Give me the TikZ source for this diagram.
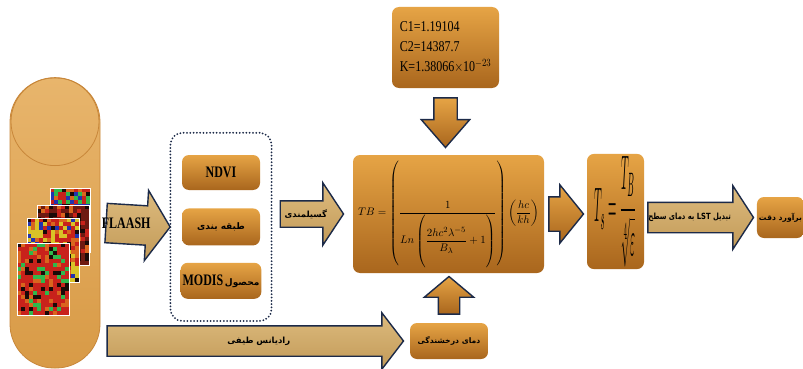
\documentclass[tikz,border=0pt]{standalone}
\usepackage{fontspec}
\usepackage{amsmath}
\usepackage{graphicx}
\setmainfont{Liberation Serif}
\newfontfamily\fa[Script=Arabic]{DejaVu Sans}
\TeXXeTstate=1
\usetikzlibrary{calc,positioning,fit,shapes.arrows}

\definecolor{boxtop}{HTML}{E6A445}
\definecolor{boxmid}{HTML}{D88C2C}
\definecolor{boxbot}{HTML}{A9661D}
\definecolor{navy}{HTML}{1C2A48}
\definecolor{creamtop}{HTML}{DDBB7E}
\definecolor{creammid}{HTML}{F6E8C4}
\definecolor{creambot}{HTML}{C29A58}
\definecolor{cyltop}{HTML}{E8B56C}
\definecolor{cylbot}{HTML}{D89A46}
\definecolor{cylline}{HTML}{C8873A}
\definecolor{imred}{HTML}{C8221B}
\definecolor{imdred}{HTML}{6E1A12}
\definecolor{imgrn}{HTML}{2FB84C}
\definecolor{imblk}{HTML}{1A0A08}
\definecolor{imyel}{HTML}{D9C227}
\definecolor{imblu}{HTML}{2233B0}
\definecolor{imorg}{HTML}{D9661E}

\newcommand\cond[1]{\scalebox{0.75}[1]{#1}}
\newcommand\fatext[1]{{\fa\bfseries\beginR #1\endR}}
% big block arrow from #2 to #3, named #4
\newcommand\fatarrow[4][]{%
  \path let \p1=#2, \p2=#3, \n1={veclen(\x2-\x1,\y2-\y1)}, \n2={atan2(\y2-\y1,\x2-\x1)} in
    node[fat, anchor=tail, minimum height=\n1, rotate=\n2, #1] (#4) at (\p1) {};
}

\begin{document}
\begin{tikzpicture}[x=1pt,y=-1pt,
    box/.style={rectangle, rounded corners=7pt, top color=boxtop, middle color=boxmid, bottom color=boxbot, inner sep=2pt},
    grp/.style={draw=navy, line width=2pt, dash pattern=on 0pt off 3.3pt, line cap=round, rounded corners=12pt, inner xsep=10pt, inner ysep=22pt},
    fat/.style={single arrow, draw=navy, line width=1.4pt, text height=0pt, text depth=0pt, inner xsep=0pt},
    arr/.style n args={3}{inner ysep=#1, single arrow head extend=#2, single arrow tip angle=#3},
    cream/.style={top color=creamtop, middle color=creammid, bottom color=creambot},
    orange/.style={top color=boxtop, middle color=boxmid, bottom color=boxbot},
    albl/.style={font=\bfseries\fontsize{16}{16}\selectfont, inner sep=0pt},
    plbl/.style={font=\fontsize{8.5}{9}\selectfont, inner sep=0pt}]
\useasboundingbox[fill=white] (0,0) rectangle (803,369);

% source images
\node[rectangle, rounded corners=44pt, draw=cylline, line width=0.8pt, top color=cyltop, bottom color=cylbot, minimum width=90, minimum height=290] (src) at (55,223) {};
\draw[cylline, line width=0.8pt] ($(src.north)+(0,44)$) circle[radius=44];
\pgfmathsetseed{12}
\pgfmathdeclarerandomlist{pa}{{imgrn}{imred}{imred}{imblk}{imorg}{imgrn}{imblu}}
\pgfmathdeclarerandomlist{pb}{{imdred}{imdred}{imblk}{imred}{imorg}{imdred}}
\pgfmathdeclarerandomlist{pc}{{imyel}{imred}{imblu}{imblk}{imred}{imorg}{imyel}}
\pgfmathdeclarerandomlist{pd}{{imred}{imred}{imred}{imgrn}{imblk}{imorg}{imred}}
\foreach \ix/\iy/\nx/\ny/\pal in {50/188/10/16/pa, 37/205/13/15/pb, 27/218/13/16/pc, 17/243/13/18/pd}{
  \foreach \cx in {1,...,\nx}
    \foreach \cy in {1,...,\ny}{
      \pgfmathrandomitem{\imcol}{\pal}
      \fill[\imcol] (\ix+\cx*4-4,\iy+\cy*4-4) rectangle ++(4,4);
    }
  \draw[white, line width=0.8pt] (\ix,\iy) rectangle ++(\nx*4,\ny*4);
}

% indices
\node[box, minimum width=78, minimum height=35, albl] (ndvi) at (221,172.5) {\cond{NDVI}};
\node[box, minimum width=78, minimum height=37, below=18pt of ndvi] (cls) {\fatext{\small طبقه بندی}};
\node[box, minimum width=78, minimum height=36, below=17pt of cls] (modis)
  {\cond{\fontsize{16}{16}\selectfont\bfseries MODIS}\,\fatext{\small محصول}};
\node[grp, fit=(ndvi)(cls)(modis)] (grp) {};

% formulas
\node[box, minimum width=107, minimum height=81] (cst) at (445.5,47.5)
  {\fontsize{15}{20}\selectfont\scalebox{0.8}[1]{\begin{tabular}{@{}l@{}}C1=1.19104\\C2=14387.7\\K=1.38066$\times$10$^{-23}$\end{tabular}}};
\node[box, minimum width=191, minimum height=118, font=\fontsize{11}{11}\selectfont] (tb) at (448.5,214)
  {$TB=\left(\dfrac{1}{Ln\left(\vcenter{\hbox{\rule{0pt}{52pt}}}\dfrac{2hc^{2}\lambda^{-5}}{B_{\lambda}}+1\right)}\right)\left(\dfrac{hc}{kh}\right)$};
\node[box, minimum width=78, minimum height=36] (bt) at (449,341) {\scalebox{0.85}{\fatext{\small دمای درخشندگی}}};
\node[box, minimum width=57, minimum height=93] (ts) at (615.5,211.5)
  {\resizebox{42pt}{66pt}{$T_{s}=\dfrac{T_{B}}{\sqrt[4]{\varepsilon}}$}};
\node[box, minimum width=45, minimum height=41] (acc) at (780.5,217.5) {\scalebox{0.85}{\fatext{\small برآورد دقت}}};

% arrows
\fatarrow[cream, arr={19}{15.5}{112}]{($(src.east)+(5,0)$)}{(grp.west)}{fl}
\fatarrow[cream, arr={12.5}{18}{113}]{($(grp.east |- tb.west)+(7,0)$)}{($(tb.west)+(-10,0)$)}{em}
\fatarrow[orange, arr={16.5}{12}{102}]{($(tb.east)+(4,0)$)}{($(tb.east -| ts.west)+(-4,0)$)}{tt}
\fatarrow[cream, arr={14.5}{16.5}{114}]{($(ts.east |- acc.west)+(3,0)$)}{($(acc.west)+(-4,0)$)}{lst}
\fatarrow[cream, arr={14.5}{13}{105}]{($(src.east |- bt.west)+(6,0)$)}{($(bt.west)+(-7,0)$)}{rad}
\fatarrow[orange, arr={11}{12.5}{82}]{($(cst.south)+(0,9)$)}{($(cst.south |- tb.north)+(0,-8)$)}{dn}
\fatarrow[orange, arr={10}{14}{100}]{($(bt.north)+(0,-8)$)}{($(bt.north |- tb.south)+(0,4)$)}{up}

\node[albl] at ($(fl.tail)!.5!(fl.before head |- fl.tail)$) {\cond{FLAASH}};
\node[plbl] at ($(em.tail)!.5!(em.before head |- em.tail)+(5,0)$) {\fatext{گسیلمندی}};
\node[plbl] at ($(lst.tail)!.5!(lst.before head |- lst.tail)$) {\scalebox{0.8}[1]{\fatext{تبدیل LST به دمای سطح}}};
\node[plbl] at ($(rad.tail)!.5!(rad.before head |- rad.tail)+(15,0)$) {\fatext{رادیانس طیفی}};
\end{tikzpicture}
\end{document}
